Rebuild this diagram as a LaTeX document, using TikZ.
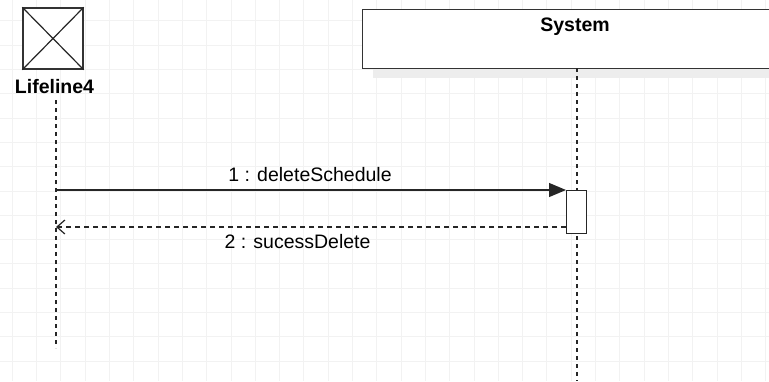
\documentclass[tikz,border=0pt]{standalone}
\usepackage{fontspec}
\setmainfont{Liberation Sans}
\usetikzlibrary{arrows.meta}
\begin{document}
\begin{tikzpicture}[x=1pt,y=-1pt,
  lbl/.style={font=\fontsize{19.5}{22}\selectfont, inner sep=0pt},
  blbl/.style={font=\fontsize{19.5}{22}\selectfont\bfseries, inner sep=0pt},
  life/.style={draw=black!85, line width=1.2pt, dash pattern=on 4pt off 4pt},
  box/.style={draw=black!80, line width=1.4pt, fill=white}]
\useasboundingbox (0,0) rectangle (769,381);
\fill[white] (0,0) rectangle (769,381);
\foreach \x in {12.2,36.5,...,769} \draw[black!5, line width=0.8pt] (\x,0) -- (\x,381);
\foreach \y in {20.8,45.1,...,381} \draw[black!5, line width=0.8pt] (0,\y) -- (769,\y);
% Lifeline4 actor
\node[box, minimum width=60pt, minimum height=61pt, inner sep=0pt] (act) at (53,38.5) {};
\draw[black!85, line width=1.2pt] (act.north west) -- (act.south east) (act.north east) -- (act.south west);
\node[blbl] (l4) at (54.5,87) {Lifeline4};
\coordinate (l4top) at (56,100);
\coordinate (l4bot) at (56,348);
\draw[life] (l4top) -- (l4bot);
% System
\fill[black!7] (373,68) rectangle (775,78);
\node[box, minimum width=420pt, minimum height=59pt, inner sep=0pt, anchor=north west] (sys) at (362,9) {};
\node[blbl] (syst) at (575,27) {System};
\coordinate (systop) at (577,68);
\coordinate (sysbot) at (577,381);
\draw[life] (systop) -- (sysbot);
% activation
\node[draw=black!85, line width=1.2pt, fill=white, minimum width=20pt, minimum height=43pt, inner sep=0pt, anchor=north west] (act2) at (566,190) {};
\coordinate (m1s) at (56,190);
\coordinate (m2e) at (56,227);
\draw[black!85, line width=1.2pt, -{Triangle[length=17pt,width=14pt]}] (m1s) -- (act2.north west);
\draw[black!85, line width=1.2pt, dash pattern=on 5pt off 4pt, -{Straight Barb[length=8pt,width=14pt,line width=1.2pt]}] (act2.west |- m2e) -- (m2e);
\node[lbl] (t1) at (310,175) {1 : deleteSchedule};
\node[lbl] (t2) at (297.5,242) {2 : sucessDelete};
\end{tikzpicture}
\end{document}
